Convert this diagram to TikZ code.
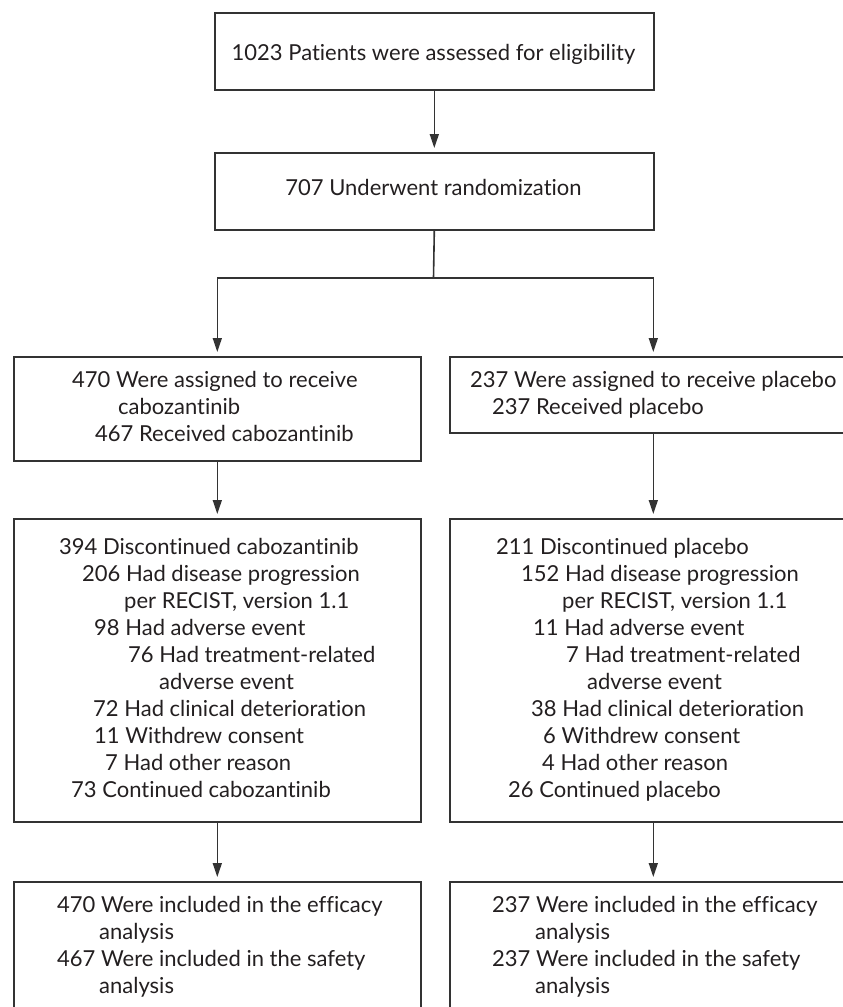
\documentclass[tikz,border=0pt]{standalone}
\usepackage{fontspec}
\setmainfont{Lato}[Ligatures={NoCommon}]
\usetikzlibrary{arrows.meta}
\definecolor{ink}{HTML}{231F20}
\definecolor{rulecol}{HTML}{333333}
\newcommand{\ind}[1]{\hspace*{#1pt}}
\begin{document}
\begin{tikzpicture}[x=1pt,y=-1pt,
  frame/.style={draw=rulecol, line width=1.6pt, rectangle, inner sep=0pt,
    anchor=north west, minimum width=407pt},
  % multi-line texts are anchored at the baseline of their last line
  txt/.style={text=ink, inner sep=0pt, align=left, anchor=base west,
    font=\fontsize{22}{27}\selectfont},
  ctxt/.style={text=ink, inner sep=0pt, anchor=base,
    font=\fontsize{22}{27}\selectfont},
  link/.style={draw=rulecol, line width=1.6pt},
  arrow/.style={link, -{Triangle[length=14pt,width=9pt]}, shorten >=4pt}
]
\useasboundingbox (0,0) rectangle (843,1007);
\clip (0,0) rectangle (843,1007);

% boxes
\node[frame, minimum width=439pt, minimum height=77pt] (elig) at (214,12) {};
\node[frame, minimum width=439pt, minimum height=77pt] (rand) at (214,152) {};
\node[frame, minimum height=104pt] (assignL) at (13,356) {};
\node[frame, minimum height=76pt]  (assignR) at (449,356) {};
\node[frame, minimum height=303pt] (discL) at (13,518) {};
\node[frame, minimum height=303pt] (discR) at (449,518) {};
\node[frame, minimum height=160pt] (anaL) at (13,881) {};
\node[frame, minimum height=160pt] (anaR) at (449,881) {};

% texts
\node[ctxt] (t-elig) at (433.5,60) {1023 Patients were assessed for eligibility};
\node[ctxt] (t-rand) at (433.5,195) {707 Underwent randomization};

\node[txt] (t-assignL) at (72,441) {470 Were assigned to receive\\
  \ind{46}cabozantinib\\
  \ind{23}467 Received cabozantinib};
\node[txt] (t-assignR) at (470,414) {237 Were assigned to receive placebo\\
  \ind{22}237 Received placebo};

\node[txt] (t-discL) at (59,797) {394 Discontinued cabozantinib\\
  \ind{23}206 Had disease progression\\
  \ind{65}per RECIST, version 1.1\\
  \ind{35}98 Had adverse event\\
  \ind{69}76 Had treatment-related\\
  \ind{100}adverse event\\
  \ind{34}72 Had clinical deterioration\\
  \ind{35}11 Withdrew consent\\
  \ind{46}7 Had other reason\\
  \ind{12}73 Continued cabozantinib};
\node[txt] (t-discR) at (496,797) {211 Discontinued placebo\\
  \ind{25}152 Had disease progression\\
  \ind{66}per RECIST, version 1.1\\
  \ind{37}11 Had adverse event\\
  \ind{70}7 Had treatment-related\\
  \ind{91}adverse event\\
  \ind{35}38 Had clinical deterioration\\
  \ind{47}6 Withdrew consent\\
  \ind{46}4 Had other reason\\
  \ind{12}26 Continued placebo};

\node[txt] (t-anaL) at (57,993) {470 Were included in the efficacy\\
  \ind{42}analysis\\
  467 Were included in the safety\\
  \ind{42}analysis};
\node[txt] (t-anaR) at (492,993) {237 Were included in the efficacy\\
  \ind{43}analysis\\
  237 Were included in the safety\\
  \ind{43}analysis};

% connectors
\coordinate (split) at (433.5,278);
\draw[arrow] (elig.south) -- (rand.north);
\draw[link] (rand.south) -- (split);
\draw[arrow] (split) -| (assignL.north);
\draw[arrow] (split) -| (assignR.north);
\draw[arrow] (assignL.south) -- (discL.north);
\draw[arrow] (assignR.south) -- (discR.north);
\draw[arrow] (discL.south) -- (anaL.north);
\draw[arrow] (discR.south) -- (anaR.north);
\end{tikzpicture}
\end{document}
